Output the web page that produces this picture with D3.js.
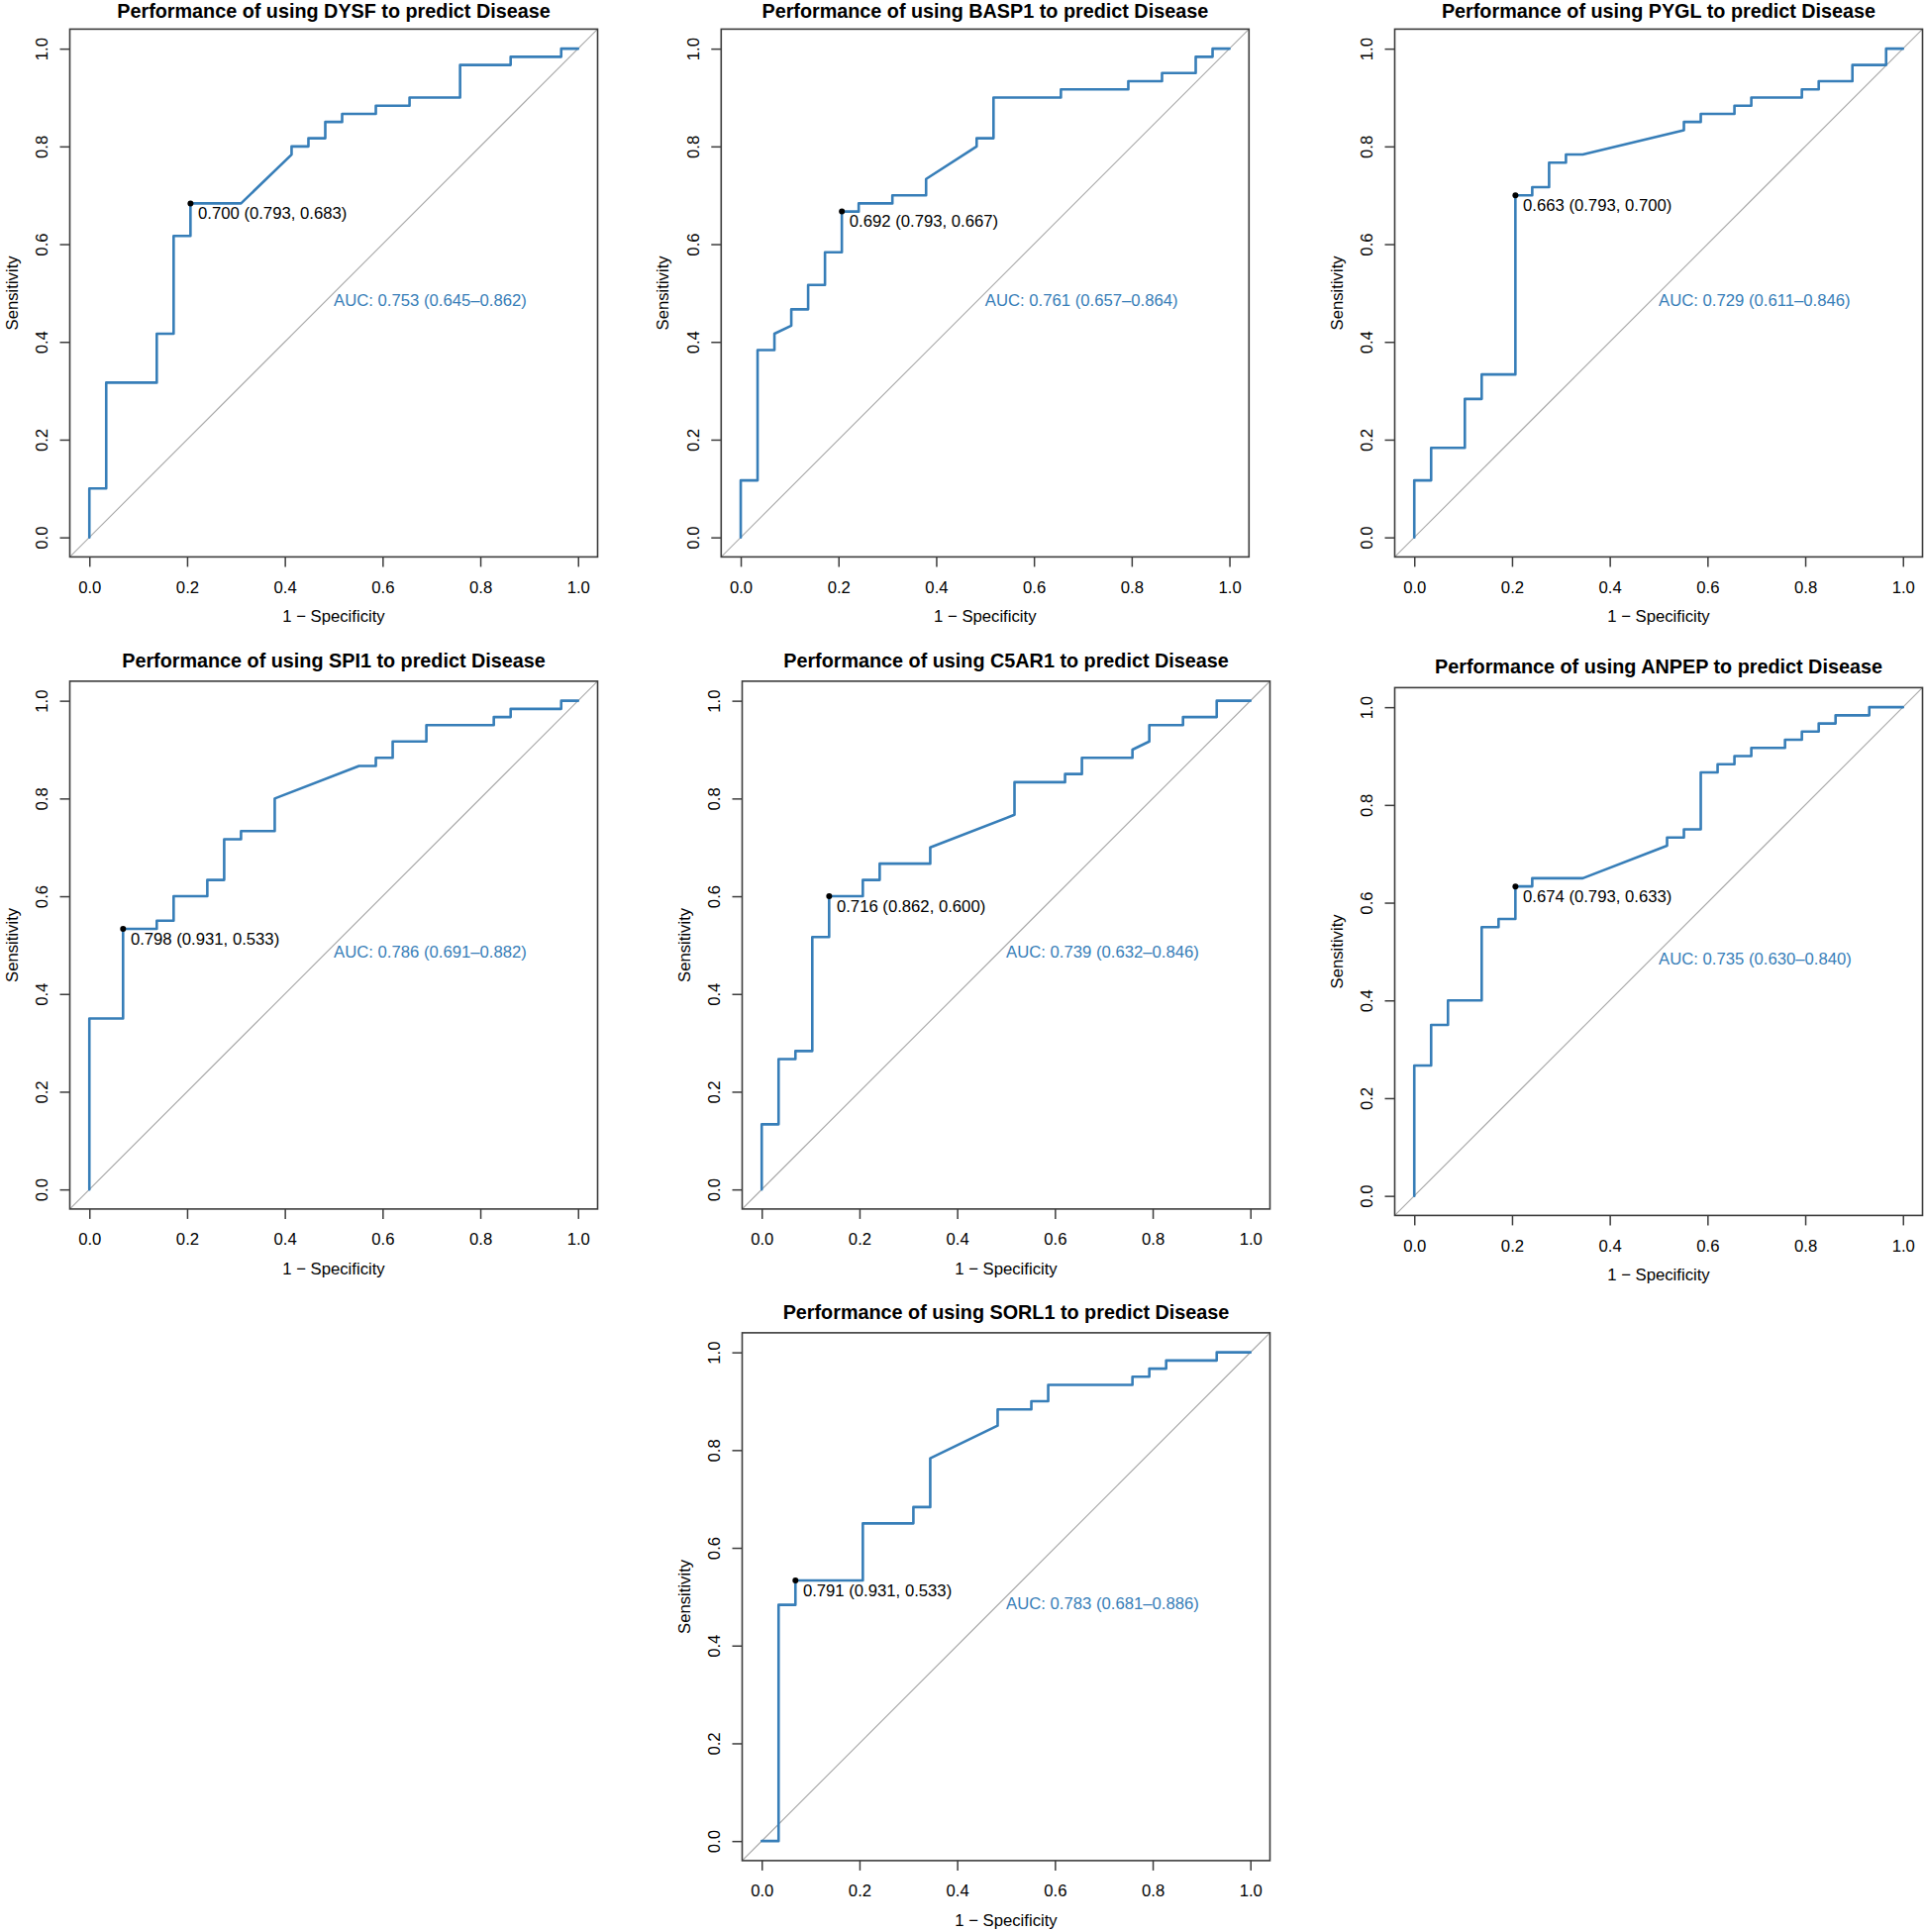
<!DOCTYPE html>
<html>
<head>
<meta charset="utf-8">
<script src="https://cdn.jsdelivr.net/npm/d3@7"></script>
<style>
  html, body { margin: 0; padding: 0; background: #ffffff; }
  svg { display: block; }
  text { font-family: "Liberation Sans", Arial, Helvetica, sans-serif; }
</style>
</head>
<body>
<script>
// ---------------- DATA ----------------
const genes = ["DYSF", "BASP1", "PYGL", "SPI1", "C5AR1", "ANPEP", "SORL1"];
const nControls = 29;   // step size of 1 - specificity
const nCases = 60;      // step size of sensitivity

// ROC curve vertices as counts: false positives (of 29 controls), true positives (of 60 cases)
const fpDYSF  = [0,0,1,1,4,4,5,5,6,6,9,12,12,13,13,14,14,15,15,17,17,19,19,22,22,25,25,28,28,29];
const tpDYSF  = [0,6,6,19,19,25,25,37,37,41,41,47,48,48,49,49,51,51,52,52,53,53,54,54,58,58,59,59,60,60];
const fpBASP1 = [0,0,1,1,2,2,3,3,4,4,5,5,6,6,7,7,9,9,11,11,14,14,15,15,19,19,23,23,25,25,27,27,28,28,29];
const tpBASP1 = [0,7,7,23,23,25,26,28,28,31,31,35,35,40,40,41,41,42,42,44,48,49,49,54,54,55,55,56,56,57,57,59,59,60,60];
const fpPYGL  = [0,0,1,1,3,3,4,4,6,6,7,7,8,8,9,9,10,16,16,17,17,19,19,20,20,23,23,24,24,26,26,28,28,29];
const tpPYGL  = [0,7,7,11,11,17,17,20,20,42,42,43,43,46,46,47,47,50,51,51,52,52,53,53,54,54,55,55,56,56,58,58,60,60];
const fpSPI1  = [0,0,2,2,4,4,5,5,7,7,8,8,9,9,11,11,16,17,17,18,18,20,20,24,24,25,25,28,28,29];
const tpSPI1  = [0,21,21,32,32,33,33,36,36,38,38,43,43,44,44,48,52,52,53,53,55,55,57,57,58,58,59,59,60,60];
const fpC5AR1 = [0,0,1,1,2,2,3,3,4,4,6,6,7,7,10,10,15,15,18,18,19,19,22,22,23,23,25,25,27,27,29];
const tpC5AR1 = [0,8,8,16,16,17,17,31,31,36,36,38,38,40,40,42,46,50,50,51,51,53,53,54,55,57,57,58,58,60,60];
const fpANPEP = [0,0,1,1,2,2,4,4,5,5,6,6,7,7,10,15,15,16,16,17,17,18,18,19,19,20,20,22,22,23,23,24,24,25,25,27,27,29];
const tpANPEP = [0,16,16,21,21,24,24,33,33,34,34,38,38,39,39,43,44,44,45,45,52,52,53,53,54,54,55,55,56,56,57,57,58,58,59,59,60,60];
const fpSORL1 = [0,1,1,2,2,6,6,9,9,10,10,14,14,16,16,17,17,22,22,23,23,24,24,27,27,29];
const tpSORL1 = [0,0,29,29,32,32,39,39,41,41,47,51,53,53,54,54,56,56,57,57,58,58,59,59,60,60];

const fpCounts = [fpDYSF, fpBASP1, fpPYGL, fpSPI1, fpC5AR1, fpANPEP, fpSORL1];
const tpCounts = [tpDYSF, tpBASP1, tpPYGL, tpSPI1, tpC5AR1, tpANPEP, tpSORL1];

const aucValue = [0.753, 0.761, 0.729, 0.786, 0.739, 0.735, 0.783];
const aucLow   = [0.645, 0.657, 0.611, 0.691, 0.632, 0.630, 0.681];
const aucHigh  = [0.862, 0.864, 0.846, 0.882, 0.846, 0.840, 0.886];

const bestThreshold   = [0.700, 0.692, 0.663, 0.798, 0.716, 0.674, 0.791];
const bestSpecificity = [0.793, 0.793, 0.793, 0.931, 0.862, 0.793, 0.931];
const bestSensitivity = [0.683, 0.667, 0.700, 0.533, 0.600, 0.633, 0.533];

const tickValues = [0, 0.2, 0.4, 0.6, 0.8, 1.0];
const xAxisTitle = "1 \u2212 Specificity";
const yAxisTitle = "Sensitivity";

// ---------------- LAYOUT ----------------
const W = 1944, H = 1951;
const panelLeft = [70.5, 728.3, 1408.5, 70.5, 749.5, 1408.5, 749.5];
const panelTop  = [29.4, 29.4, 29.4, 687.9, 687.9, 694.4, 1345.9];
const boxSize = 533;
const BLUE = "#377EB8";
const FONT = 16.7;
const TITLE_FONT = 19.8;

const svg = d3.select("body").append("svg")
  .attr("width", W).attr("height", H)
  .attr("viewBox", `0 0 ${W} ${H}`);
svg.append("rect").attr("width", W).attr("height", H).attr("fill", "#fff");

genes.forEach((gene, i) => {
  const left = panelLeft[i], top = panelTop[i];
  const x = d3.scaleLinear().domain([-0.04, 1.04]).range([left, left + boxSize]);
  const y = d3.scaleLinear().domain([-0.04, 1.04]).range([top + boxSize, top]);
  const g = svg.append("g");

  const clipId = "clip" + i;
  g.append("clipPath").attr("id", clipId)
    .append("rect").attr("x", left).attr("y", top).attr("width", boxSize).attr("height", boxSize);

  // diagonal reference line
  g.append("line")
    .attr("clip-path", `url(#${clipId})`)
    .attr("x1", x(-0.04)).attr("y1", y(-0.04))
    .attr("x2", x(1.04)).attr("y2", y(1.04))
    .attr("stroke", "#a8a8a8").attr("stroke-width", 1.1);

  // ROC curve
  const pts = fpCounts[i].map((fp, k) => [fp / nControls, tpCounts[i][k] / nCases]);
  const line = d3.line().x(d => x(d[0])).y(d => y(d[1]));
  g.append("path")
    .attr("d", line(pts))
    .attr("fill", "none")
    .attr("stroke", BLUE)
    .attr("stroke-width", 2.6)
    .attr("stroke-linejoin", "round")
    .attr("stroke-linecap", "round");

  // best threshold point and label
  const px = x(1 - bestSpecificity[i]), py = y(bestSensitivity[i]);
  g.append("circle").attr("cx", px).attr("cy", py).attr("r", 3).attr("fill", "#000");
  g.append("text")
    .attr("x", px + 7.6).attr("y", py + 15.5)
    .attr("font-size", FONT).attr("fill", "#000")
    .text(`${bestThreshold[i].toFixed(3)} (${bestSpecificity[i].toFixed(3)}, ${bestSensitivity[i].toFixed(3)})`);

  // AUC text
  g.append("text")
    .attr("x", x(0.5)).attr("y", y(0.5) + 13)
    .attr("font-size", FONT).attr("fill", BLUE)
    .text(`AUC: ${aucValue[i].toFixed(3)} (${aucLow[i].toFixed(3)}\u2013${aucHigh[i].toFixed(3)})`);

  // box
  g.append("rect")
    .attr("x", left).attr("y", top).attr("width", boxSize).attr("height", boxSize)
    .attr("fill", "none").attr("stroke", "#3c3c3c").attr("stroke-width", 1.6);

  // axes
  const xAxis = g.append("g")
    .attr("transform", `translate(0,${top + boxSize})`)
    .call(d3.axisBottom(x).tickValues(tickValues).tickSize(10).tickFormat(d3.format(".1f")));
  xAxis.select(".domain").remove();
  xAxis.selectAll(".tick line").attr("stroke", "#3c3c3c").attr("stroke-width", 1.5);
  xAxis.selectAll(".tick text")
    .attr("y", 36.5).attr("dy", null)
    .attr("font-size", FONT).attr("fill", "#000")
    .attr("font-family", "Liberation Sans, Arial, sans-serif");

  const yAxis = g.append("g")
    .attr("transform", `translate(${left},0)`)
    .call(d3.axisLeft(y).tickValues(tickValues).tickSize(10).tickFormat(d3.format(".1f")));
  yAxis.select(".domain").remove();
  yAxis.selectAll(".tick line").attr("stroke", "#3c3c3c").attr("stroke-width", 1.5);
  yAxis.selectAll(".tick text")
    .attr("x", 0).attr("y", -22.5).attr("dy", null)
    .attr("transform", "rotate(-90)")
    .attr("text-anchor", "middle")
    .attr("font-size", FONT).attr("fill", "#000")
    .attr("font-family", "Liberation Sans, Arial, sans-serif");

  // axis titles
  g.append("text")
    .attr("x", left + boxSize / 2).attr("y", top + boxSize + 66)
    .attr("text-anchor", "middle").attr("font-size", FONT).attr("fill", "#000")
    .text(xAxisTitle);
  g.append("text")
    .attr("transform", `translate(${left - 53},${top + boxSize / 2}) rotate(-90)`)
    .attr("text-anchor", "middle").attr("font-size", FONT).attr("fill", "#000")
    .text(yAxisTitle);

  // title (kept fully inside the page at the top edge)
  g.append("text")
    .attr("x", left + boxSize / 2).attr("y", Math.max(top - 14, TITLE_FONT * 0.93))
    .attr("text-anchor", "middle").attr("font-size", TITLE_FONT).attr("font-weight", "bold").attr("fill", "#000")
    .text(`Performance of using ${gene} to predict Disease`);
});
</script>
</body>
</html>
